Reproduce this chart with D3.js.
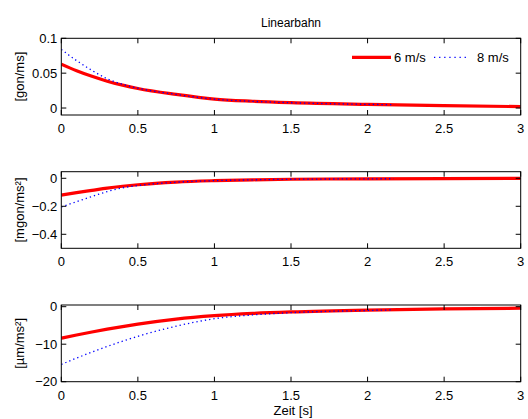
<!DOCTYPE html>
<meta charset="utf-8">
<style>
    body { margin: 0; background: #fff; }
    text { font-family: "Liberation Sans", Arial, sans-serif; font-size: 13px; fill: #000; }
    .box { fill: none; stroke: #000; stroke-width: 1; }
    .tick { stroke: #000; stroke-width: 1; }
</style>
<svg width="528" height="419"></svg>
<script src="https://d3js.org/d3.v7.min.js"></script>
<script>

    var tRed  = [0, 0.1, 0.2, 0.3, 0.4, 0.5, 0.75, 1, 1.25, 1.5, 2, 2.5, 3];
    var tBlue = [0, 0.1, 0.2, 0.3, 0.4, 0.5, 0.75, 1, 1.25, 1.5, 2, 2.17];

    // 6 m/s (red) and 8 m/s (blue) per subplot
    var vel6  = [0.063, 0.0535, 0.0455, 0.0385, 0.0328, 0.028, 0.0195, 0.0128, 0.0097, 0.0077, 0.0053, 0.0035, 0.002];
    var vel8  = [0.084, 0.068, 0.054, 0.042, 0.034, 0.0285, 0.0195, 0.0127, 0.0096, 0.0076, 0.0053, 0.0048];
    var acc6  = [-0.12, -0.102, -0.086, -0.07, -0.057, -0.046, -0.027, -0.017, -0.011, -0.007, -0.004, -0.002, -0.001];
    var acc8  = [-0.205, -0.167, -0.13, -0.095, -0.068, -0.052, -0.028, -0.017, -0.011, -0.007, -0.004, -0.003];
    var lin6  = [-8.4, -7.55, -6.75, -6.0, -5.3, -4.65, -3.3, -2.4, -1.8, -1.4, -0.9, -0.6, -0.4];
    var lin8  = [-15.4, -13.7, -12.1, -10.6, -9.2, -7.9, -5.2, -3.2, -2.2, -1.6, -1.0, -0.85];

    var xTicks = [0, 0.5, 1, 1.5, 2, 2.5, 3];
    var legendNames = ["6 m/s", "8 m/s"];

    var panels = [
        { top: 38.3, bottom: 115, domain: [-0.01, 0.1], ticks: [0, 0.05, 0.1], label: "[gon/ms]", red: vel6, blue: vel8 },
        { top: 171.7, bottom: 248.3, domain: [-0.5, 0.047], ticks: [-0.4, -0.2, 0], label: "[mgon/ms²]", red: acc6, blue: acc8 },
        { top: 305, bottom: 381.7, domain: [-20, 0.45], ticks: [-20, -10, 0], label: "[µm/ms²]", red: lin6, blue: lin8 }
    ];

    var svg = d3.select("svg");
    var left = 61.3, right = 520.7, tickLen = 5;

    var x = d3.scaleLinear().domain([0, 3]).range([left, right]);

    function fmt(v) {
        return (v < 0 ? "\u2212" : "") + Math.abs(v);
    }

    panels.forEach(function(p) {
        var y = d3.scaleLinear().domain(p.domain).range([p.bottom, p.top]);
        var g = svg.append("g");

        var clipId = "clip" + Math.round(p.top);
        g.append("clipPath").attr("id", clipId).append("rect")
            .attr("x", left).attr("y", p.top)
            .attr("width", right - left).attr("height", p.bottom - p.top);

        var line = d3.line().curve(d3.curveMonotoneX)
            .x(function(d) { return x(d[0]); })
            .y(function(d) { return y(d[1]); });

        g.append("path")
            .datum(tRed.map(function(t, i) { return [t, p.red[i]]; }))
            .attr("clip-path", "url(#" + clipId + ")")
            .attr("d", line)
            .attr("fill", "none").attr("stroke", "#ff0000").attr("stroke-width", 3.2);

        g.append("path")
            .datum(tBlue.map(function(t, i) { return [t, p.blue[i]]; }))
            .attr("clip-path", "url(#" + clipId + ")")
            .attr("d", line)
            .attr("fill", "none").attr("stroke", "#0000ff").attr("stroke-width", 1.3)
            .attr("stroke-dasharray", "1.3,3");

        // ticks on all four sides
        xTicks.forEach(function(t) {
            g.append("line").attr("class", "tick")
                .attr("x1", x(t)).attr("x2", x(t)).attr("y1", p.bottom).attr("y2", p.bottom - tickLen);
            g.append("line").attr("class", "tick")
                .attr("x1", x(t)).attr("x2", x(t)).attr("y1", p.top).attr("y2", p.top + tickLen);
            g.append("text").attr("x", x(t)).attr("y", p.bottom + 18)
                .attr("text-anchor", "middle").text(t);
        });
        p.ticks.forEach(function(v) {
            g.append("line").attr("class", "tick")
                .attr("x1", left).attr("x2", left + tickLen).attr("y1", y(v)).attr("y2", y(v));
            g.append("line").attr("class", "tick")
                .attr("x1", right).attr("x2", right - tickLen).attr("y1", y(v)).attr("y2", y(v));
            g.append("text").attr("x", left - 4).attr("y", y(v)).attr("dy", "0.35em")
                .attr("text-anchor", "end").text(fmt(v));
        });

        g.append("rect").attr("class", "box")
            .attr("x", left).attr("y", p.top)
            .attr("width", right - left).attr("height", p.bottom - p.top);

        g.append("text")
            .attr("transform", "translate(24," + ((p.top + p.bottom) / 2) + ") rotate(-90)")
            .attr("text-anchor", "middle").text(p.label);
    });

    svg.append("text").attr("x", 291).attr("y", 26.5)
        .attr("text-anchor", "middle").style("font-size", "12px").text("Linearbahn");

    svg.append("text").attr("x", 293).attr("y", 415)
        .attr("text-anchor", "middle").text("Zeit [s]");

    // legend, no box
    var leg = svg.append("g");
    leg.append("line").attr("x1", 352).attr("x2", 391).attr("y1", 57.3).attr("y2", 57.3)
        .attr("stroke", "#ff0000").attr("stroke-width", 3.2);
    leg.append("text").attr("x", 394).attr("y", 57.3).attr("dy", "0.35em").text(legendNames[0]);
    leg.append("line").attr("x1", 434).attr("x2", 466).attr("y1", 57.3).attr("y2", 57.3)
        .attr("stroke", "#0000ff").attr("stroke-width", 1.3).attr("stroke-dasharray", "1.3,3.8");
    leg.append("text").attr("x", 477).attr("y", 57.3).attr("dy", "0.35em").text(legendNames[1]);

</script>
